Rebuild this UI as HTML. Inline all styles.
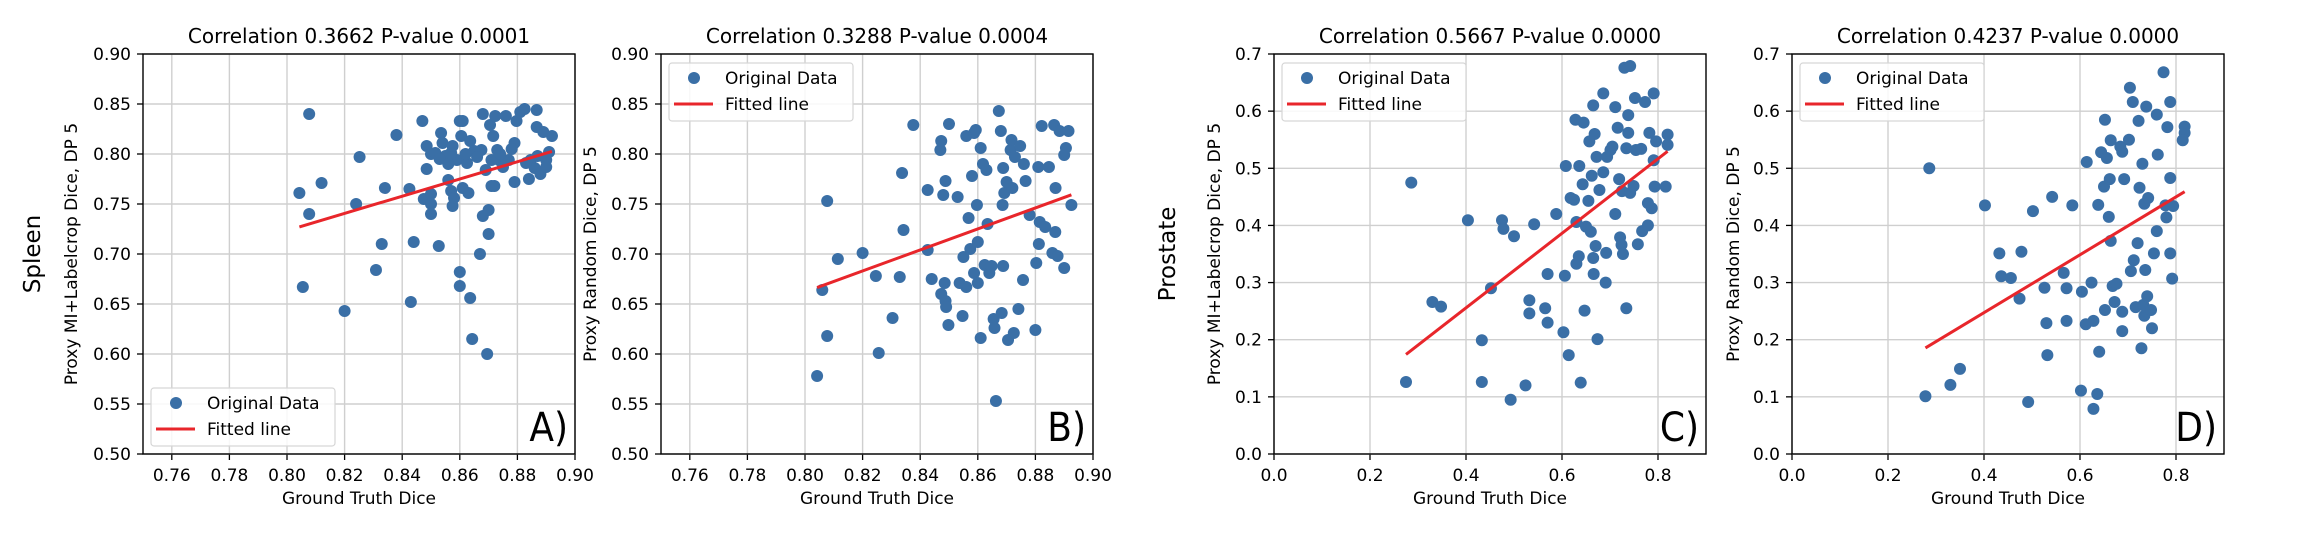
<!DOCTYPE html>
<html><head><meta charset="utf-8">
<style>
html,body{margin:0;padding:0;background:#fff;}
svg{display:block;font-family:"DejaVu Sans","Liberation Sans",sans-serif;}
</style></head>
<body>
<svg id="fig" width="2304" height="536" viewBox="0 0 2304 536" xmlns="http://www.w3.org/2000/svg">
<text x="0" y="0" transform="translate(40,254) rotate(-90)" text-anchor="middle" font-size="23">Spleen</text>
<text x="0" y="0" transform="translate(1175,254) rotate(-90)" text-anchor="middle" font-size="23">Prostate</text>
</svg>
<script>
// ---- Panel A data (Spleen, MI+Labelcrop) ----
const aX = [0.8077,0.8043,0.8077,0.8055,0.812,0.820,0.8252,0.824,0.8309,0.8329,0.834,0.838,0.843,0.844,0.8425,0.847,0.8485,0.8485,0.850,0.8475,0.850,0.850,0.850,0.8527,0.8535,0.854,0.855,0.856,0.857,0.8575,0.858,0.859,0.860,0.861,0.8605,0.860,0.860,0.861,0.863,0.8636,0.8625,0.8636,0.8643,0.867,0.8675,0.868,0.869,0.868,0.870,0.870,0.8695,0.8705,0.872,0.871,0.8723,0.873,0.8736,0.875,0.876,0.877,0.879,0.879,0.8797,0.881,0.8825,0.884,0.8846,0.886,0.8867,0.8867,0.888,0.889,0.890,0.892,0.890,0.8716,0.865,0.857,0.8515,0.8575,0.871,0.853,0.856,0.862,0.866,0.874,0.878,0.883,0.887,0.891];
const aY = [0.840,0.761,0.740,0.667,0.771,0.643,0.797,0.750,0.684,0.710,0.766,0.819,0.652,0.712,0.765,0.833,0.785,0.808,0.800,0.755,0.750,0.740,0.760,0.708,0.821,0.811,0.798,0.774,0.763,0.748,0.756,0.794,0.833,0.833,0.818,0.682,0.668,0.766,0.761,0.813,0.791,0.656,0.615,0.700,0.804,0.840,0.784,0.738,0.744,0.720,0.600,0.829,0.768,0.768,0.838,0.804,0.794,0.787,0.838,0.794,0.772,0.811,0.833,0.842,0.845,0.775,0.794,0.786,0.844,0.827,0.780,0.822,0.794,0.818,0.787,0.818,0.803,0.801,0.801,0.808,0.794,0.795,0.790,0.800,0.797,0.800,0.805,0.791,0.798,0.802];
// ---- Panel B data (Spleen, Random) ----
const bX = [0.8042,0.806,0.8077,0.8077,0.8114,0.820,0.8246,0.8256,0.8304,0.8329,0.8337,0.8342,0.8376,0.8426,0.8426,0.844,0.847,0.8473,0.848,0.8485,0.8488,0.8473,0.8488,0.849,0.8498,0.850,0.853,0.8537,0.8547,0.855,0.856,0.856,0.8568,0.8574,0.858,0.8587,0.8593,0.8587,0.8597,0.860,0.860,0.861,0.861,0.8618,0.8624,0.863,0.8634,0.864,0.8648,0.8655,0.8658,0.8663,0.8673,0.868,0.8683,0.8686,0.8688,0.8688,0.8692,0.870,0.8705,0.8714,0.8717,0.872,0.8725,0.8729,0.8741,0.8747,0.8757,0.876,0.8766,0.878,0.880,0.8803,0.881,0.8812,0.8815,0.8822,0.8834,0.8847,0.8859,0.8865,0.8869,0.887,0.8877,0.8884,0.890,0.8906,0.890,0.8915,0.8925];
const bY = [0.578,0.664,0.753,0.618,0.695,0.701,0.678,0.601,0.636,0.677,0.781,0.724,0.829,0.764,0.704,0.675,0.804,0.813,0.759,0.671,0.773,0.660,0.653,0.647,0.629,0.830,0.757,0.671,0.638,0.697,0.667,0.818,0.736,0.705,0.778,0.821,0.824,0.681,0.749,0.712,0.671,0.806,0.616,0.790,0.689,0.784,0.730,0.681,0.688,0.635,0.626,0.553,0.843,0.823,0.641,0.749,0.688,0.786,0.761,0.772,0.614,0.804,0.814,0.766,0.621,0.797,0.645,0.808,0.674,0.790,0.773,0.739,0.624,0.691,0.787,0.710,0.732,0.828,0.727,0.787,0.701,0.829,0.722,0.766,0.698,0.823,0.799,0.806,0.686,0.823,0.749];
// ---- Panel C data (Prostate, MI+Labelcrop) ----
const cX = [0.275,0.286,0.330,0.348,0.404,0.433,0.433,0.452,0.475,0.478,0.500,0.493,0.524,0.532,0.532,0.542,0.565,0.570,0.570,0.588,0.603,0.606,0.608,0.614,0.618,0.625,0.628,0.630,0.630,0.635,0.636,0.639,0.645,0.643,0.647,0.650,0.655,0.657,0.660,0.662,0.665,0.665,0.666,0.668,0.670,0.672,0.674,0.678,0.686,0.686,0.691,0.692,0.694,0.701,0.705,0.711,0.711,0.716,0.719,0.721,0.724,0.725,0.727,0.730,0.742,0.734,0.734,0.738,0.738,0.742,0.749,0.752,0.754,0.758,0.765,0.767,0.773,0.779,0.779,0.782,0.787,0.791,0.791,0.793,0.796,0.816,0.820,0.820];
const cY = [0.126,0.475,0.266,0.258,0.409,0.199,0.126,0.290,0.409,0.394,0.381,0.095,0.120,0.269,0.246,0.402,0.255,0.230,0.315,0.420,0.213,0.312,0.504,0.173,0.448,0.445,0.585,0.406,0.333,0.346,0.504,0.125,0.580,0.472,0.251,0.398,0.443,0.547,0.389,0.487,0.610,0.343,0.315,0.560,0.364,0.520,0.201,0.462,0.631,0.493,0.300,0.352,0.520,0.532,0.538,0.607,0.420,0.571,0.481,0.379,0.366,0.460,0.350,0.676,0.679,0.255,0.535,0.593,0.562,0.457,0.469,0.623,0.532,0.367,0.534,0.390,0.616,0.439,0.400,0.562,0.430,0.631,0.514,0.468,0.547,0.468,0.559,0.541];
// ---- Panel D data (Prostate, Random) ----
const dX = [0.278,0.286,0.330,0.350,0.402,0.432,0.436,0.456,0.474,0.478,0.492,0.502,0.526,0.530,0.532,0.542,0.566,0.572,0.572,0.584,0.602,0.604,0.614,0.612,0.624,0.628,0.628,0.636,0.638,0.640,0.644,0.650,0.652,0.652,0.656,0.660,0.662,0.664,0.664,0.668,0.672,0.676,0.684,0.688,0.688,0.688,0.692,0.704,0.702,0.706,0.710,0.712,0.716,0.720,0.722,0.724,0.728,0.730,0.732,0.734,0.734,0.736,0.738,0.740,0.742,0.748,0.750,0.754,0.760,0.760,0.762,0.774,0.778,0.780,0.782,0.788,0.788,0.788,0.792,0.794,0.818,0.818,0.814];
const dY = [0.101,0.500,0.121,0.149,0.435,0.351,0.311,0.308,0.272,0.354,0.091,0.425,0.291,0.229,0.173,0.450,0.317,0.290,0.233,0.435,0.111,0.284,0.511,0.227,0.300,0.233,0.079,0.105,0.436,0.179,0.528,0.468,0.585,0.252,0.518,0.415,0.481,0.549,0.373,0.294,0.266,0.298,0.538,0.529,0.249,0.215,0.481,0.641,0.550,0.320,0.616,0.339,0.257,0.369,0.583,0.466,0.185,0.508,0.261,0.438,0.242,0.322,0.608,0.276,0.448,0.252,0.220,0.351,0.594,0.390,0.524,0.668,0.435,0.414,0.572,0.616,0.483,0.351,0.307,0.434,0.573,0.562,0.549];
// ---- Axis tick labels ----
const spleenXTicks = ["0.76","0.78","0.80","0.82","0.84","0.86","0.88","0.90"];
const spleenYTicks = ["0.50","0.55","0.60","0.65","0.70","0.75","0.80","0.85","0.90"];
const prostXTicks = ["0.0","0.2","0.4","0.6","0.8"];
const prostYTicks = ["0.0","0.1","0.2","0.3","0.4","0.5","0.6","0.7"];
const titles = ["Correlation 0.3662 P-value 0.0001","Correlation 0.3288 P-value 0.0004","Correlation 0.5667 P-value 0.0000","Correlation 0.4237 P-value 0.0000"];
const yLabels = ["Proxy MI+Labelcrop Dice, DP 5","Proxy Random Dice, DP 5","Proxy MI+Labelcrop Dice, DP 5","Proxy Random Dice, DP 5"];
const panelTags = ["A)","B)","C)","D)"];

const NS = "http://www.w3.org/2000/svg";
const svg = document.getElementById('fig');
function mk(tag, attrs, parent, txt){
  const e = document.createElementNS(NS, tag);
  for (const k in attrs) e.setAttribute(k, attrs[k]);
  if (txt !== undefined) e.textContent = txt;
  (parent||svg).appendChild(e);
  return e;
}
const panels = [
  {L:143, xs:aX, ys:aY, xmin:0.75, xmax:0.90, ymin:0.5, ymax:0.9, xt:spleenXTicks, yt:spleenYTicks, legendBottom:true, ylx:71},
  {L:661, xs:bX, ys:bY, xmin:0.75, xmax:0.90, ymin:0.5, ymax:0.9, xt:spleenXTicks, yt:spleenYTicks, legendBottom:false, ylx:590},
  {L:1274, xs:cX, ys:cY, xmin:0.0, xmax:0.9, ymin:0.0, ymax:0.7, xt:prostXTicks, yt:prostYTicks, legendBottom:false, ylx:1214},
  {L:1792, xs:dX, ys:dY, xmin:0.0, xmax:0.9, ymin:0.0, ymax:0.7, xt:prostXTicks, yt:prostYTicks, legendBottom:false, ylx:1733}
];
const T = 54, B = 454, W = 432;
panels.forEach((p, i) => {
  const g = mk('g', {});
  
  
  const sx = v => p.L + (v - p.xmin) / (p.xmax - p.xmin) * W;
  const sy = v => B - (v - p.ymin) / (p.ymax - p.ymin) * (B - T);
  p.xt.forEach(t => {
    const x = sx(parseFloat(t));
    const gl = mk('line', {x1:x, x2:x, y1:T, y2:B, stroke:'#cfcfcf', 'stroke-width':1.4}, g);
    
    
    mk('line', {x1:x, x2:x, y1:B, y2:B+6, stroke:'#000', 'stroke-width':1.3}, g);
    const tl = mk('text', {x:x, y:B+27, 'text-anchor':'middle', 'font-size':17}, g, t);
    
    
  });
  p.yt.forEach(t => {
    const y = sy(parseFloat(t));
    const gl = mk('line', {x1:p.L, x2:p.L+W, y1:y, y2:y, stroke:'#cfcfcf', 'stroke-width':1.4}, g);
    
    
    mk('line', {x1:p.L-6, x2:p.L, y1:y, y2:y, stroke:'#000', 'stroke-width':1.3}, g);
    const tl = mk('text', {x:p.L-12, y:y+6, 'text-anchor':'end', 'font-size':17}, g, t);
    
    
  });
  p.xs.forEach((xv, k) => {
    const c = mk('circle', {cx:sx(xv), cy:sy(p.ys[k]), r:6, fill:'#3a6fa6'}, g);
    
    
  });
  const n = p.xs.length;
  const mx = p.xs.reduce((a,b)=>a+b,0)/n, my = p.ys.reduce((a,b)=>a+b,0)/n;
  let sxy=0, sxx=0;
  for (let k=0;k<n;k++){ sxy+=(p.xs[k]-mx)*(p.ys[k]-my); sxx+=(p.xs[k]-mx)**2; }
  const slope = sxy/sxx, icpt = my - slope*mx;
  const x0 = Math.min(...p.xs), x1 = Math.max(...p.xs);
  const fl = mk('line', {x1:sx(x0), y1:sy(icpt+slope*x0), x2:sx(x1), y2:sy(icpt+slope*x1), stroke:'#e8262b', 'stroke-width':3}, g);
  
  
  const fr = mk('rect', {x:p.L, y:T, width:W, height:B-T, fill:'none', stroke:'#000', 'stroke-width':1.4}, g);
  
  
  const tt = mk('text', {x:p.L+W/2, y:43, 'text-anchor':'middle', 'font-size':20}, g, titles[i]);
  
  
  const xl = mk('text', {x:p.L+W/2, y:504, 'text-anchor':'middle', 'font-size':17}, g, 'Ground Truth Dice');
  
  
  const yl = mk('text', {x:0, y:0, transform:'translate(' + (p.ylx+6) + ',254) rotate(-90)', 'text-anchor':'middle', 'font-size':17}, g, yLabels[i]);
  
  
  const pt = mk('text', {x:p.L+W-7, y:441, 'text-anchor':'end', 'font-size':40, 'font-family':'"DejaVu Sans Condensed","DejaVu Sans",sans-serif'}, g, panelTags[i]);
  
  
  const lx = p.L + 8, ly = p.legendBottom ? B - 8 - 58 : T + 9;
  const lg = mk('g', {}, g);
  
  
  mk('rect', {x:lx, y:ly, width:184, height:58, rx:3, fill:'#fff', 'fill-opacity':0.85, stroke:'#d6d6d6', 'stroke-width':1.2}, lg);
  const lm = mk('circle', {cx:lx+25, cy:ly+15, r:6, fill:'#3a6fa6'}, lg);
  
  
  const lt1 = mk('text', {x:lx+56, y:ly+21, 'font-size':17}, lg, 'Original Data');
  
  
  const ll = mk('line', {x1:lx+5, x2:lx+44, y1:ly+41, y2:ly+41, stroke:'#e8262b', 'stroke-width':3}, lg);
  
  
  const lt2 = mk('text', {x:lx+56, y:ly+47, 'font-size':17}, lg, 'Fitted line');
  
  
});
</script>
</body></html>
